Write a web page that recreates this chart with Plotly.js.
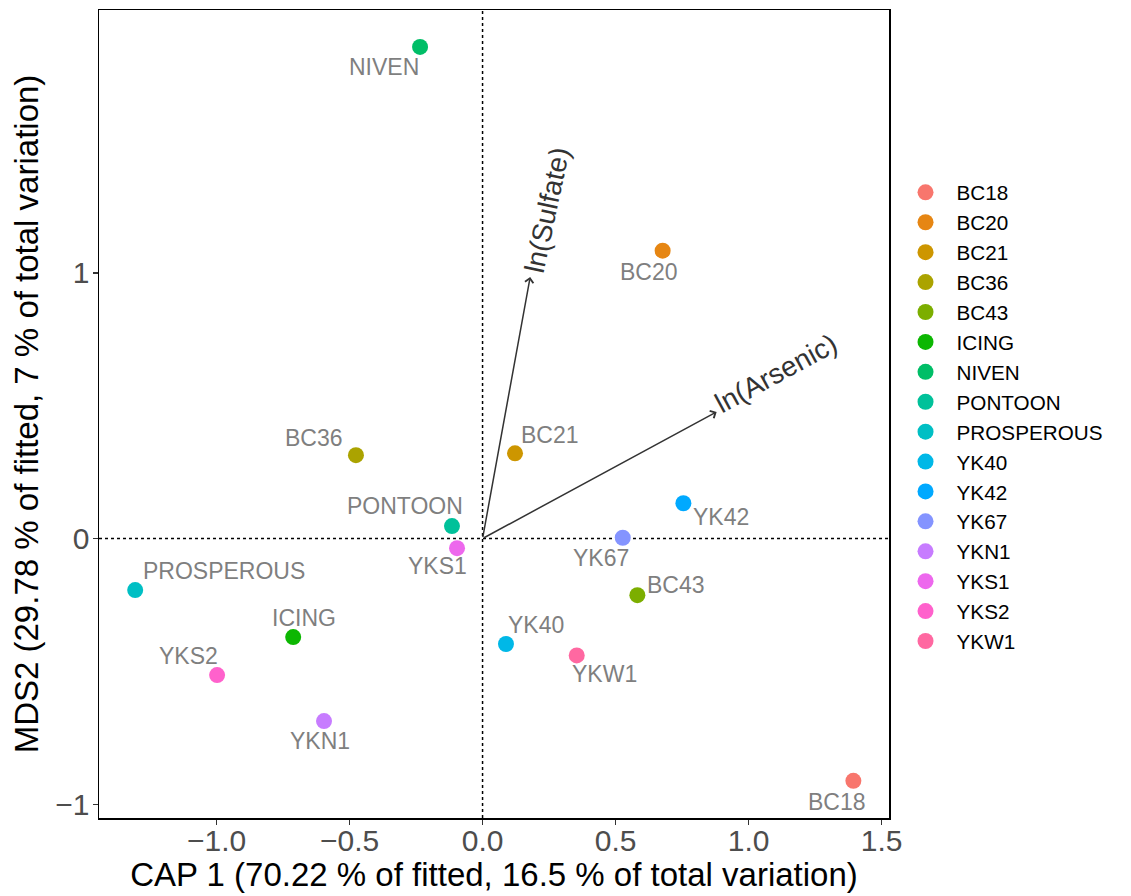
<!DOCTYPE html>
<html>
<head>
<meta charset="utf-8">
<script src="https://cdn.plot.ly/plotly-3.0.1.min.js"></script>
<style>
html,body{margin:0;padding:0;background:#fff;}
#chart{width:1131px;height:896px;}
</style>
</head>
<body>
<div id="chart"></div>
<script>
// Sites (legend order)
const sites = ["BC18","BC20","BC21","BC36","BC43","ICING","NIVEN","PONTOON","PROSPEROUS","YK40","YK42","YK67","YKN1","YKS1","YKS2","YKW1"];
const colors = ["#F8766D","#E68613","#CD9600","#ABA300","#7CAE00","#0CB702","#00BE67","#00C19A","#00BFC4","#00B8E7","#00A9FF","#8494FF","#C77CFF","#ED68ED","#FF61CC","#FF68A1"];
// CAP1 / MDS2 scores
const cap1 = [1.394, 0.677, 0.122, -0.476, 0.582, -0.712, -0.235, -0.115, -1.306, 0.088, 0.755, 0.527, -0.596, -0.096, -0.998, 0.354];
const mds2 = [-0.912, 1.084, 0.321, 0.314, -0.213, -0.371, 1.851, 0.047, -0.194, -0.397, 0.133, 0.003, -0.687, -0.036, -0.514, -0.440];
// Repelled label positions (data coordinates)
const labelX = [1.331, 0.624, 0.254, -0.633, 0.729, -0.671, -0.370, -0.291, -0.972, 0.201, 0.898, 0.445, -0.611, -0.171, -1.107, 0.459];
const labelY = [-0.990, 1.003, 0.390, 0.378, -0.175, -0.299, 1.775, 0.122, -0.122, -0.326, 0.081, -0.072, -0.762, -0.104, -0.442, -0.510];
// Environmental vectors
const vecNames = ["ln(Sulfate)", "ln(Arsenic)"];
const vecX = [0.179, 0.880];
const vecY = [0.985, 0.477];
const vecLabelX = [0.241, 1.103];
const vecLabelY = [1.237, 0.623];
const vecAngle = [-78, -28.5];

const xTicks = [-1.0, -0.5, 0.0, 0.5, 1.0, 1.5];
const xTickText = ["\u22121.0", "\u22120.5", "0.0", "0.5", "1.0", "1.5"];
const yTicks = [-1, 0, 1];
const yTickText = ["\u22121", "0", "1"];

const FONT = "Liberation Sans, Arial, Helvetica, sans-serif";

const traces = sites.map((s, i) => ({
  type: "scatter",
  mode: "markers",
  name: s,
  x: [cap1[i]],
  y: [mds2[i]],
  marker: {color: colors[i], size: 16, line: {width: 0}},
  hoverinfo: "name"
}));

const annotations = [];
sites.forEach((s, i) => {
  annotations.push({
    x: labelX[i], y: labelY[i], xref: "x", yref: "y",
    text: s, showarrow: false,
    font: {family: FONT, size: 23, color: "#7F7F7F"},
    xanchor: "center", yanchor: "middle"
  });
});
vecNames.forEach((v, i) => {
  annotations.push({
    x: vecX[i], y: vecY[i], xref: "x", yref: "y",
    ax: 0, ay: 0, axref: "x", ayref: "y",
    showarrow: true, arrowhead: 4, arrowsize: 1.1, arrowwidth: 1.5,
    arrowcolor: "#333333", text: ""
  });
  annotations.push({
    x: vecLabelX[i], y: vecLabelY[i], xref: "x", yref: "y",
    text: v, showarrow: false, textangle: vecAngle[i],
    font: {family: FONT, size: 28, color: "#333333"},
    xanchor: "center", yanchor: "middle"
  });
});

const layout = {
  width: 1131, height: 896,
  margin: {l: 99, r: 242, t: 10, b: 78, pad: 0},
  paper_bgcolor: "#ffffff", plot_bgcolor: "#ffffff",
  showlegend: true,
  legend: {
    x: 1.007, y: 0.799, xanchor: "left", yanchor: "top",
    font: {family: FONT, size: 20.7, color: "#000000"},
    bgcolor: "rgba(0,0,0,0)", tracegroupgap: 0, itemwidth: 52
  },
  xaxis: {
    range: [-1.442, 1.528], autorange: false,
    showgrid: false, zeroline: false,
    showline: true, mirror: true, linecolor: "#000000", linewidth: 1.5,
    ticks: "outside", ticklen: 5, tickwidth: 1.2, tickcolor: "#333333",
    tickvals: xTicks, ticktext: xTickText, ticklabelstandoff: -10,
    tickfont: {family: FONT, size: 30, color: "#4D4D4D"},
    title: {text: "CAP 1 (70.22 % of fitted, 16.5 % of total variation)", font: {family: FONT, size: 33, color: "#000000"}, standoff: 4},
    automargin: false
  },
  yaxis: {
    range: [-1.052, 1.990], autorange: false,
    showgrid: false, zeroline: false,
    showline: true, mirror: true, linecolor: "#000000", linewidth: 1.5,
    ticks: "outside", ticklen: 5, tickwidth: 1.2, tickcolor: "#333333",
    tickvals: yTicks, ticktext: yTickText, ticklabelstandoff: -3,
    tickfont: {family: FONT, size: 30, color: "#4D4D4D"},
    title: {text: "MDS2 (29.78 % of fitted, 7 % of total variation)", font: {family: FONT, size: 33, color: "#000000"}, standoff: 6},
    automargin: false
  },
  shapes: [
    {type: "line", xref: "x", yref: "paper", x0: 0, x1: 0, y0: 0, y1: 1, line: {color: "#000000", width: 1.5, dash: "dot"}, layer: "below"},
    {type: "line", xref: "paper", yref: "y", x0: 0, x1: 1, y0: 0, y1: 0, line: {color: "#000000", width: 1.5, dash: "dot"}, layer: "below"}
  ],
  annotations: annotations
};

Plotly.newPlot("chart", traces, layout, {displayModeBar: false, staticPlot: true});
</script>
</body>
</html>
